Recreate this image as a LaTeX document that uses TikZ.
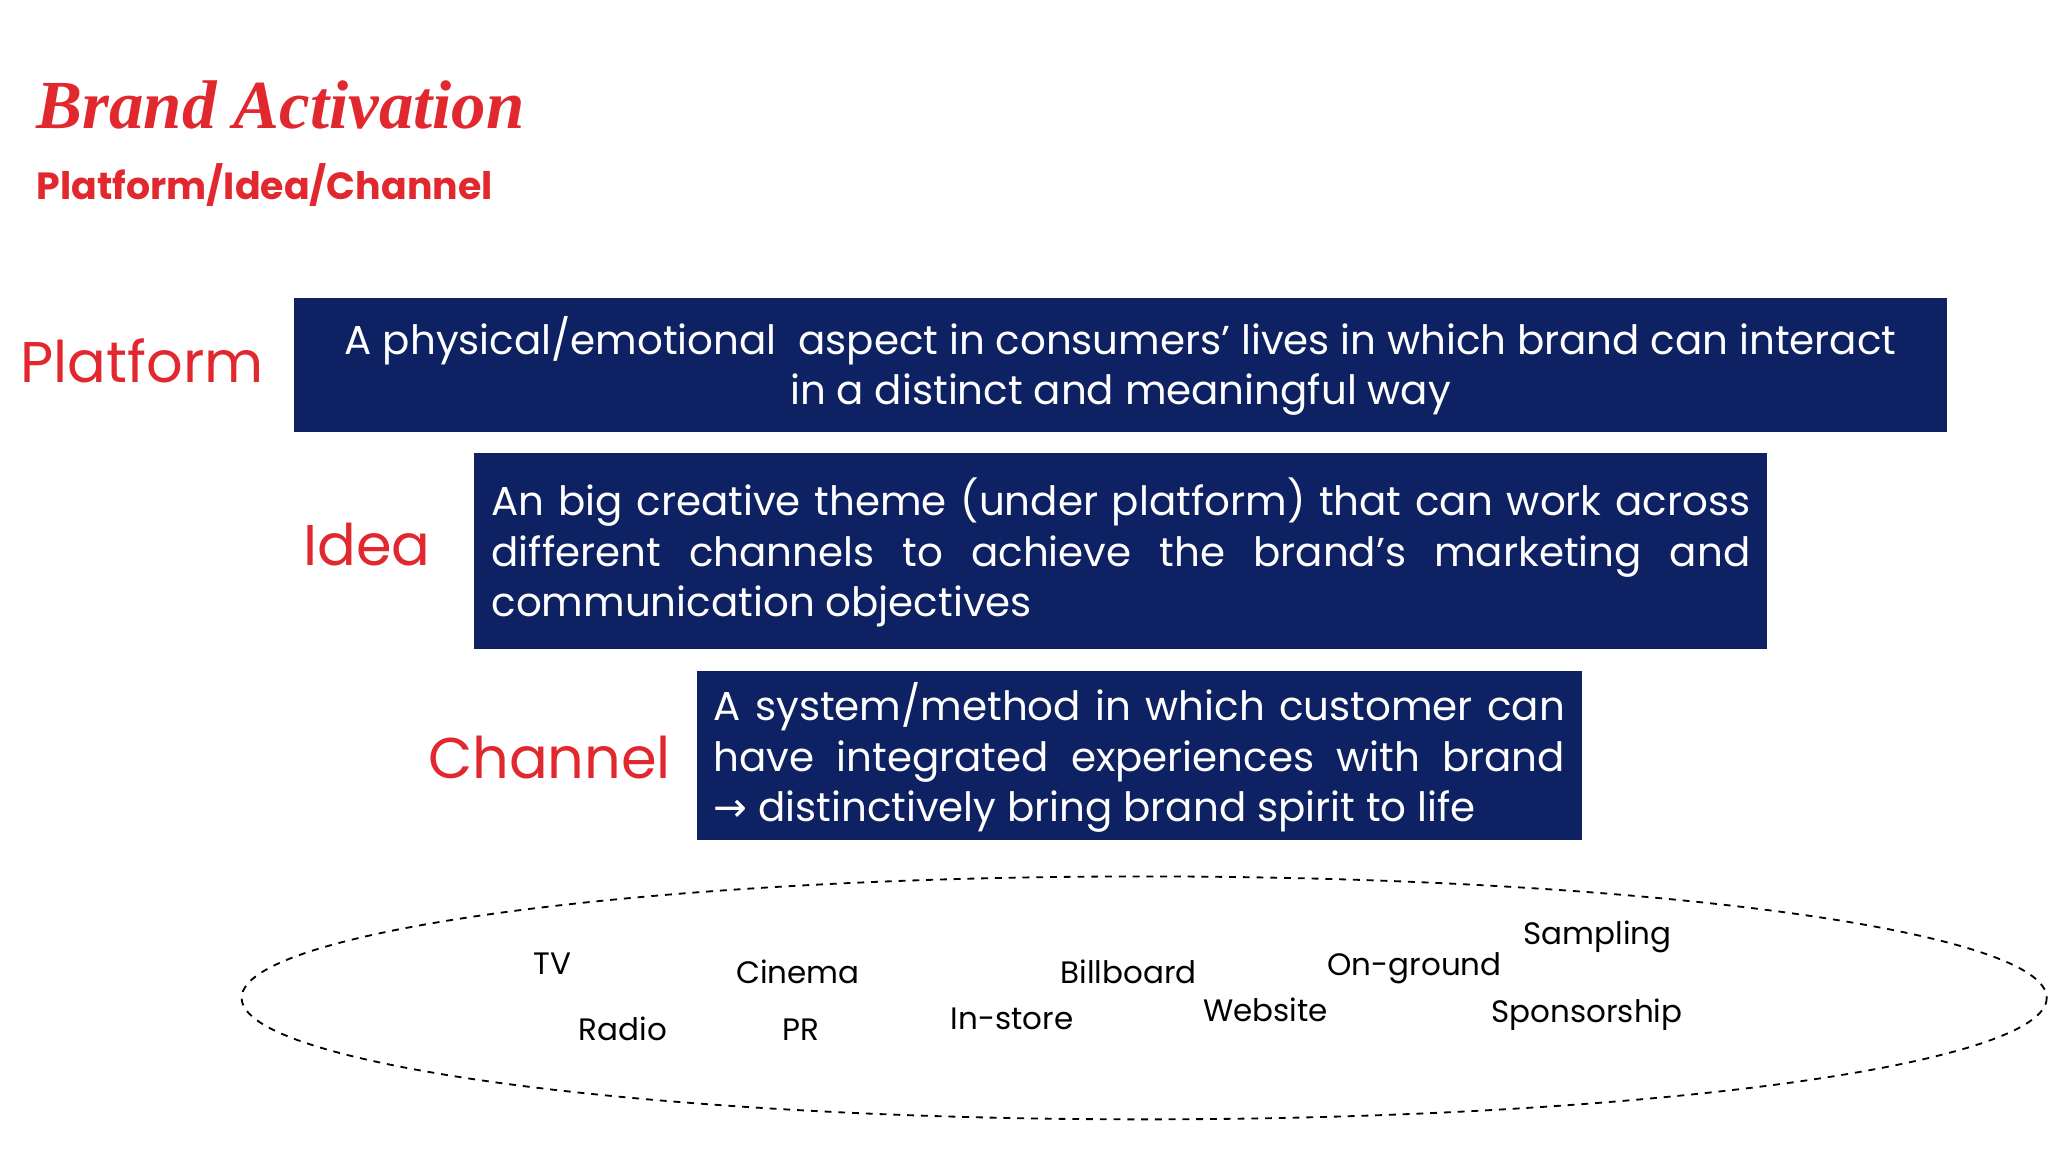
\documentclass[tikz,border=0pt]{standalone}
\usepackage{fontspec}
\setmainfont{Poppins}
\newfontfamily\titlefont{Liberation Serif}
\usetikzlibrary{positioning}
\definecolor{navy}{HTML}{0E2163}
\definecolor{brandred}{HTML}{E0282E}
\tikzset{
 navybox/.style={text=white,inner sep=0pt,font=\fontsize{17.6}{22}\selectfont},
 label/.style={text=brandred,anchor=east,font=\fontsize{25}{30}\selectfont},
 chan/.style={font=\fontsize{13.5}{15}\selectfont,text=black}
}
\newcommand{\jline}[2]{\makebox[#1][s]{#2}}
\begin{document}
\begin{tikzpicture}[x=0.02cm,y=-0.02cm]
\useasboundingbox (0,0) rectangle (1568,882);
\node[anchor=west,text=brandred,font=\titlefont\bfseries\itshape\fontsize{30}{34}\selectfont] (title) at (22,80) {Brand Activation};
\node[anchor=west,text=brandred,font=\bfseries\fontsize{16.5}{20}\selectfont] (sub) at (22,142) {Platform/Idea/Channel};
% boxes
\fill[navy] (225,228) rectangle (1491,331);
\node[navybox,align=center] (pbox) at (858,280) {A physical/emotional\ \ aspect in consumers' lives in which brand can interact\\ in a distinct and meaningful way};
\fill[navy] (363,347) rectangle (1353,497);
\node[navybox,align=left,anchor=west] (ibox) at (376,423) {\jline{19.28cm}{An big creative theme (under platform) that can work across}\\ \jline{19.28cm}{different channels to achieve the brand's marketing and}\\ communication objectives};
\fill[navy] (534,514) rectangle (1211,643);
\node[navybox,align=left,anchor=west] (cbox) at (546,580) {\jline{13.04cm}{A system/method in which customer can}\\ \jline{13.04cm}{have integrated experiences with brand}\\ {\fontspec{DejaVu Sans}→} distinctively bring brand spirit to life};
\node[label] (pl) at (208,276) {Platform};
\node[label] (il) at (336,417) {Idea};
\node[label] (cl) at (520,580) {Channel};
% ellipse
\draw[dashed,line width=0.8pt] (876,764) ellipse [x radius=691,y radius=93];
\node[chan] (tv) at (423,738) {TV};
\node[chan] (radio) at (477,788) {Radio};
\node[chan] (cinema) at (611,744) {Cinema};
\node[chan] (pr) at (613,788) {PR};
\node[chan] (instore) at (775,780) {In-store};
\node[chan] (bill) at (864,744) {Billboard};
\node[chan] (web) at (969,773) {Website};
\node[chan] (onground) at (1083,741) {On-ground};
\node[chan] (samp) at (1223,717) {Sampling};
\node[chan] (spons) at (1215,777) {Sponsorship};
\end{tikzpicture}
\end{document}
